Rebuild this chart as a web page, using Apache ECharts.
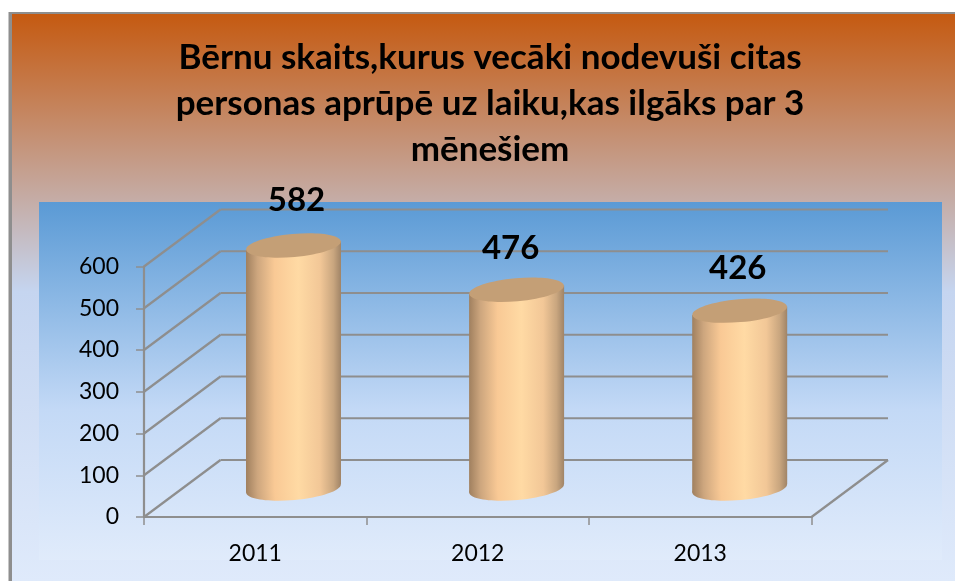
<!DOCTYPE html>
<html><head><meta charset="utf-8">
<style>html,body{margin:0;padding:0;background:#fff}#c{width:955px;height:581px}</style>
<script src="https://cdn.jsdelivr.net/npm/echarts@6/dist/echarts.min.js"></script>
</head><body><div id="c"></div>
<script>
const categories = ['2011', '2012', '2013'];
const values = [582, 476, 426];
const yTicks = [0, 100, 200, 300, 400, 500, 600];
const titleText = 'Bērnu skaits,kurus vecāki nodevuši citas\npersonas aprūpē uz laiku,kas ilgāks par 3\nmēnešiem';

const DX = 76.5, DY = -57, AXIS = '#8e8e8e', FONT = 'Lato';
const LABEL_NUDGE = [[3, -1], [-6, 3], [-2, 2]];

const chart = echarts.init(document.getElementById('c'), null, {renderer: 'canvas'});

function vGrad(stops) {
  return new echarts.graphic.LinearGradient(0, 0, 0, 1, stops.map(s => ({offset: s[0], color: s[1]})));
}
const bodyGrad = () => new echarts.graphic.LinearGradient(0, 0, 1, 0, [
  {offset: 0, color: '#a0805f'}, {offset: 0.12, color: '#cda67e'}, {offset: 0.3, color: '#f9c995'},
  {offset: 0.55, color: '#ffdaa4'}, {offset: 0.78, color: '#f2c797'}, {offset: 0.92, color: '#c9a67f'}, {offset: 1, color: '#a08467'}
]);

chart.setOption({
  animation: false,
  title: {
    text: titleText, left: 485, top: 30, textAlign: 'center',
    textStyle: {fontFamily: FONT, fontWeight: 'bold', fontSize: 35, lineHeight: 46, color: '#000'}
  },
  graphic: [
    {type: 'rect', z: -11, shape: {x: 8.5, y: 12, width: 947, height: 569}, style: {fill: '#8e8e8e'}},
    {type: 'rect', z: -10, shape: {x: 12, y: 14, width: 943, height: 567},
      style: {fill: vGrad([[0, '#c55a11'], [0.49, '#c5d5f0'], [1, '#dfeafb']])}},
    {type: 'rect', z: -9, shape: {x: 39, y: 202, width: 903, height: 358},
      style: {fill: vGrad([[0, '#5a9ad5'], [0.58, '#c3d9f6'], [1, '#e0ebfb']])}}
  ],
  grid: {left: 144, right: 143.5, top: 266.5, bottom: 64},
  xAxis: {
    type: 'category', data: categories,
    axisLine: {lineStyle: {color: AXIS, width: 2.2}},
    axisTick: {show: true, length: 8, lineStyle: {color: AXIS, width: 1.5}},
    axisLabel: {fontFamily: FONT, fontSize: 23, color: '#000', margin: 25},
    splitLine: {show: false}
  },
  yAxis: {
    type: 'value', min: 0, max: 600, interval: 100,
    axisLine: {show: true, lineStyle: {color: AXIS, width: 2.2}},
    axisTick: {show: true, length: 8, lineStyle: {color: AXIS, width: 1.5}},
    axisLabel: {fontFamily: FONT, fontSize: 23, color: '#000', margin: 25},
    splitLine: {show: false}
  },
  series: [
    {
      type: 'custom', coordinateSystem: 'cartesian2d', z: 3, silent: true, clip: false,
      data: yTicks.map(v => [0, v]),
      encode: {x: 0, y: 1},
      renderItem(params, api) {
        const v = api.value(1);
        const front = api.coord([0, v]);
        const rect = params.coordSys;
        const x0 = rect.x, x1 = rect.x + rect.width, y = front[1];
        const line = {stroke: AXIS, lineWidth: 2.2};
        const kids = [
          {type: 'line', shape: {x1: x0, y1: y, x2: x0 + DX, y2: y + DY}, style: line},
          {type: 'line', shape: {x1: x0 + DX, y1: y + DY, x2: x1 + DX, y2: y + DY}, style: line}
        ];
        if (v === 0) kids.push({type: 'line', shape: {x1: x1, y1: y, x2: x1 + DX, y2: y + DY}, style: line});
        return {type: 'group', children: kids};
      }
    },
    {
      type: 'custom', coordinateSystem: 'cartesian2d', z: 5, silent: true,
      data: values.map((v, i) => [i, v]),
      encode: {x: 0, y: 1},
      clip: false,
      renderItem(params, api) {
        const i = api.value(0), v = api.value(1);
        const top = api.coord([i, v]), base = api.coord([i, 0]);
        const cx = top[0] + DX / 2 + i * 0.6, cyT = top[1] + DY / 2, cyB = base[1] + DY / 2;
        const rx = 47.5, ry = 11.5, rot = 0.09, tx = rx * Math.sin(rot);
        const ell = (cy, fill) => ({type: 'ellipse', x: cx, y: cy, rotation: rot,
          shape: {cx: 0, cy: 0, rx, ry}, style: {fill}});
        return {type: 'group', children: [
          ell(cyB, bodyGrad()),
          {type: 'polygon', shape: {points: [[cx - rx, cyT + tx], [cx + rx, cyT - tx], [cx + rx, cyB - tx], [cx - rx, cyB + tx]]}, style: {fill: bodyGrad()}},
          ell(cyT, '#c49f76'),
          {type: 'text', style: {text: String(v), x: cx + LABEL_NUDGE[i][0], y: cyT - 44 + LABEL_NUDGE[i][1], align: 'center', verticalAlign: 'middle',
            font: 'bold 33px ' + FONT, fill: '#000'}}
        ]};
      }
    }
  ]
});
</script></body></html>
